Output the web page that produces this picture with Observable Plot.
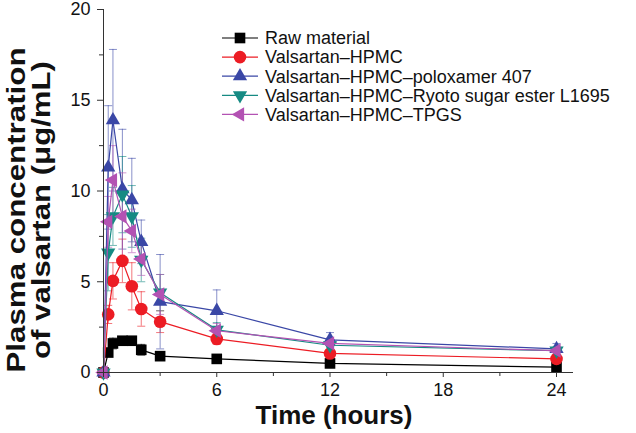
<!DOCTYPE html>
<html>
<head>
<meta charset="utf-8">
<script src="https://cdn.jsdelivr.net/npm/d3@7"></script>
<script src="https://cdn.jsdelivr.net/npm/@observablehq/plot@0.6"></script>
<style>
  html, body { margin: 0; padding: 0; background: #fff; }
  #chart { width: 636px; height: 433px; }
</style>
</head>
<body>
<div id="chart"></div>
<script>
// ---- data ----
const time = [0, 0.25, 0.5, 1, 1.5, 2, 3, 6, 12, 24];
const seriesNames = [
  "Raw material",
  "Valsartan\u2013HPMC",
  "Valsartan\u2013HPMC\u2013poloxamer 407",
  "Valsartan\u2013HPMC\u2013Ryoto sugar ester L1695",
  "Valsartan\u2013HPMC\u2013TPGS"
];
const rawMean   = [0, 1.1, 1.6, 1.75, 1.75, 1.25, 0.9, 0.75, 0.5, 0.3];
const rawSD     = [0, 0.2, 0.3, 0.2, 0.2, 0.3, 0.2, 0.15, 0.1, 0.1];
const hpmcMean  = [0, 3.2, 5.05, 6.15, 4.75, 3.5, 2.8, 1.85, 1.05, 0.75];
const hpmcSD    = [0, 0.5, 1.0, 1.2, 1.3, 0.95, 0.6, 0.3, 0.2, 0.15];
const poloxMean = [0, 11.3, 13.9, 10.1, 9.5, 7.2, 3.9, 3.4, 1.8, 1.3];
const poloxSD   = [0, 3.4, 3.9, 3.3, 2.3, 1.2, 2.6, 1.15, 0.4, 0.3];
const ryotoMean = [0, 6.6, 8.6, 9.8, 8.6, 6.2, 4.4, 2.35, 1.5, 1.2];
const ryotoSD   = [0, 2.1, 1.6, 2.1, 1.7, 1.2, 1.0, 0.4, 0.3, 0.2];
const tpgsMean  = [0, 8.3, 10.6, 8.6, 7.8, 6.25, 4.3, 2.3, 1.6, 1.2];
const tpgsSD    = [0, 1.4, 1.9, 2.4, 1.2, 0.9, 1.1, 0.4, 0.3, 0.2];

const xTicks = [0, 6, 12, 18, 24];
const xMinorTicks = [3, 9, 15, 21];
const yTicks = [0, 5, 10, 15, 20];
const yMinorTicks = [2.5, 7.5, 12.5, 17.5];
const xLabel = "Time (hours)";
const yLabelLines = ["Plasma concentration", "of valsartan (\u03bcg/mL)"];

const colors = ["#000000", "#ec1c24", "#3a47a6", "#168a83", "#b352b3"];

// ---- build table ----
const means = [rawMean, hpmcMean, poloxMean, ryotoMean, tpgsMean];
const sds = [rawSD, hpmcSD, poloxSD, ryotoSD, tpgsSD];
const rows = [];
seriesNames.forEach((s, i) => {
  time.forEach((t, j) => rows.push({series: s, idx: i, time: t, value: means[i][j], sd: sds[i][j]}));
});

const capSymbol = {
  draw(ctx, size) {
    const w = Math.sqrt(size / Math.PI);
    ctx.moveTo(-w, 0); ctx.lineTo(w, 0);
  }
};
const symbolSpec = [
  {symbol: "square", r: 6.0, rotate: 0},
  {symbol: "circle", r: 6.3, rotate: 0},
  {symbol: "triangle", r: 5.3, rotate: 0},
  {symbol: "triangle", r: 5.3, rotate: 180},
  {symbol: "triangle", r: 5.3, rotate: -90}
];

const marks = [];
// error bars
seriesNames.forEach((s, i) => {
  const d = rows.filter(r => r.idx === i && r.sd > 0);
  marks.push(Plot.ruleX(d, {x: "time", y1: r => r.value - r.sd, y2: r => r.value + r.sd,
    stroke: colors[i], strokeOpacity: 0.6, strokeWidth: 1}));
  marks.push(Plot.dot(d, {x: "time", y: r => r.value + r.sd, symbol: capSymbol, r: 4,
    stroke: colors[i], strokeOpacity: 0.6, fill: "none", strokeWidth: 1}));
  marks.push(Plot.dot(d, {x: "time", y: r => r.value - r.sd, symbol: capSymbol, r: 4,
    stroke: colors[i], strokeOpacity: 0.6, fill: "none", strokeWidth: 1}));
});
// lines and points
seriesNames.forEach((s, i) => {
  const d = rows.filter(r => r.idx === i);
  marks.push(Plot.line(d, {x: "time", y: "value", stroke: colors[i], strokeWidth: 1.2}));
  marks.push(Plot.dot(d, {x: "time", y: "value", symbol: symbolSpec[i].symbol, r: symbolSpec[i].r,
    rotate: symbolSpec[i].rotate, fill: colors[i], stroke: "none"}));
});
// axes
marks.push(Plot.ruleX([0], {stroke: "#333", strokeWidth: 1}));
marks.push(Plot.ruleY([0], {stroke: "#333", strokeWidth: 1}));
marks.push(Plot.axisX({ticks: xTicks, tickSize: 5, tickPadding: 6, label: null, fontSize: 18, stroke: "#333"}));
marks.push(Plot.axisX({ticks: xMinorTicks, tickSize: 4, tickFormat: () => "", label: null, stroke: "#333"}));
marks.push(Plot.axisY({ticks: yTicks, tickSize: 6, tickPadding: 7, label: null, fontSize: 18, stroke: "#333"}));
marks.push(Plot.axisY({ticks: yMinorTicks, tickSize: 4, tickFormat: () => "", label: null, stroke: "#333"}));

const chart = Plot.plot({
  width: 636,
  height: 433,
  marginLeft: 103,
  marginRight: 63,
  marginTop: 9,
  marginBottom: 61,
  x: {domain: [0, 24.9]},
  y: {domain: [0, 20]},
  style: {fontFamily: "'Liberation Sans', Arial, Helvetica, sans-serif", fontSize: "18px", color: "#111", background: "#fff"},
  marks
});
document.getElementById("chart").appendChild(chart);

// ---- axis titles & legend ----
const svg = d3.select(chart);
svg.append("text")
  .attr("x", 334).attr("y", 424)
  .attr("text-anchor", "middle")
  .attr("font-family", "'Liberation Sans', Arial, sans-serif")
  .attr("font-weight", "bold").attr("font-size", 26).attr("fill", "#111")
  .text(xLabel);
const yl = [{x: 25, len: 325}, {x: 50, len: 298}];
yLabelLines.forEach((t, i) => {
  svg.append("text")
    .attr("transform", `translate(${yl[i].x},210) rotate(-90)`)
    .attr("text-anchor", "middle")
    .attr("font-family", "'Liberation Sans', Arial, sans-serif")
    .attr("font-weight", "bold").attr("font-size", 26).attr("fill", "#111")
    .attr("textLength", yl[i].len).attr("lengthAdjust", "spacingAndGlyphs")
    .text(t);
});
const symTypes = [d3.symbolSquare, d3.symbolCircle, d3.symbolTriangle, d3.symbolTriangle, d3.symbolTriangle];
const lg = svg.append("g");
seriesNames.forEach((s, i) => {
  const y = 38 + i * 19.1;
  const g = lg.append("g").attr("transform", `translate(0,${y})`);
  g.append("line").attr("x1", 222).attr("x2", 258).attr("y1", 0).attr("y2", 0)
    .attr("stroke", colors[i]).attr("stroke-width", 1.2);
  const rr = symbolSpec[i].r;
  g.append("path")
    .attr("d", d3.symbol(symTypes[i], Math.PI * rr * rr)())
    .attr("transform", `translate(240,0) rotate(${symbolSpec[i].rotate})`)
    .attr("fill", colors[i]);
  g.append("text").attr("x", 265).attr("y", 0).attr("dy", "0.35em")
    .attr("text-anchor", "start")
    .attr("font-family", "'Liberation Sans', Arial, sans-serif")
    .attr("font-size", 18).attr("fill", "#111")
    .text(s);
});
</script>
</body>
</html>
